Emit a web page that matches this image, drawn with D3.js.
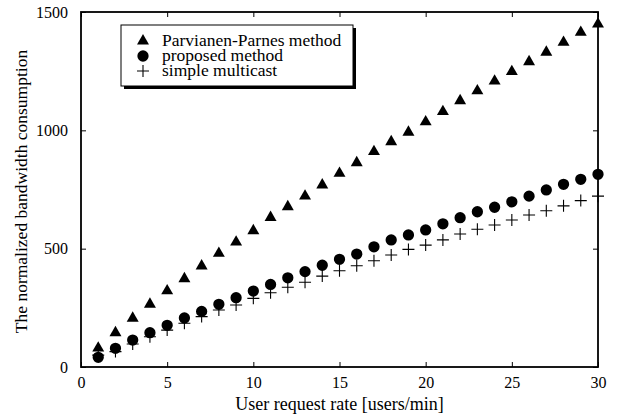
<!DOCTYPE html>
<html>
<head>
<meta charset="utf-8">
<script src="https://cdn.jsdelivr.net/npm/d3@7"></script>
<style>
  body { margin: 0; background: #fff; }
  text { font-family: "Liberation Serif", "Times New Roman", serif; fill: #000; }
</style>
</head>
<body>
<svg id="chart" width="617" height="419"></svg>
<script>
// user request rate [users/min]
var rates = d3.range(1, 31);
var parvianen = [80, 145, 206, 265, 322, 373, 427, 480, 528, 576,
                 632, 677, 722, 769, 818, 863, 910, 952, 992, 1036,
                 1079, 1125, 1167, 1208, 1248, 1290, 1330, 1372, 1414, 1449];
var proposed = [41, 79, 114, 145, 176, 207, 235, 265, 293, 321,
                349, 377, 403, 430, 455, 477, 508, 537, 558, 579,
                605, 631, 656, 675, 698, 722, 748, 772, 793, 814];
var simple = [50, 65, 97, 128, 156, 185, 213, 241, 262, 290,
              314, 337, 358, 384, 407, 428, 449, 473, 497, 515,
              537, 562, 582, 600, 621, 642, 660, 681, 703, 722];
var xTicks = [0, 5, 10, 15, 20, 25, 30];
var yTicks = [0, 500, 1000, 1500];
var legendNames = ["Parvianen-Parnes method", "proposed method", "simple multicast"];

var margin = { top: 12, right: 19, bottom: 52, left: 81 };
var width = 617 - margin.left - margin.right;
var height = 419 - margin.top - margin.bottom;

var svg = d3.select("#chart");
var g = svg.append("g").attr("transform", "translate(" + margin.left + "," + margin.top + ")");

var x = d3.scaleLinear().domain([0, 30]).range([0, width]);
var y = d3.scaleLinear().domain([0, 1500]).range([height, 0]);
var fmt = d3.format("d");

// axes, ticks inward on all four sides
g.append("g").attr("transform", "translate(0," + height + ")")
    .call(d3.axisBottom(x).tickValues(xTicks).tickFormat(fmt).tickSizeInner(-5).tickSizeOuter(0).tickPadding(10));
g.append("g")
    .call(d3.axisTop(x).tickValues(xTicks).tickSizeInner(-5).tickSizeOuter(0).tickFormat(""));
g.append("g")
    .call(d3.axisLeft(y).tickValues(yTicks).tickFormat(fmt).tickSizeInner(-5).tickSizeOuter(0).tickPadding(13));
g.append("g").attr("transform", "translate(" + width + ",0)")
    .call(d3.axisRight(y).tickValues(yTicks).tickSizeInner(-5).tickSizeOuter(0).tickFormat(""));

g.selectAll(".domain").remove();
g.selectAll("g").attr("font-family", "Liberation Serif, serif").attr("font-size", 16);
g.selectAll(".tick line").attr("stroke", "#000").attr("stroke-width", 1);

g.append("rect")
    .attr("x", 0).attr("y", 0)
    .attr("width", width).attr("height", height)
    .attr("fill", "none").attr("stroke", "#000").attr("stroke-width", 1.8);

// series markers
var tri = d3.symbol().type(d3.symbolTriangle).size(62);
var circ = d3.symbol().type(d3.symbolCircle).size(100);
var plusPath = "M-6,0H6M0,-6V6";

g.selectAll(".simple").data(simple).enter().append("path")
    .attr("class", "simple")
    .attr("transform", function (d, i) { return "translate(" + x(rates[i]) + "," + y(d) + ")"; })
    .attr("d", plusPath)
    .attr("stroke", "#000").attr("stroke-width", 1.1).attr("fill", "none");

g.selectAll(".proposed").data(proposed).enter().append("path")
    .attr("class", "proposed")
    .attr("transform", function (d, i) { return "translate(" + x(rates[i]) + "," + y(d) + ")"; })
    .attr("d", circ)
    .attr("fill", "#000");

g.selectAll(".parv").data(parvianen).enter().append("path")
    .attr("class", "parv")
    .attr("transform", function (d, i) { return "translate(" + x(rates[i]) + "," + y(d) + ")"; })
    .attr("d", tri)
    .attr("fill", "#000");

// axis titles
svg.append("text")
    .attr("x", margin.left + width / 2)
    .attr("y", 410)
    .attr("text-anchor", "middle")
    .style("font-size", "18px")
    .text("User request rate [users/min]");

svg.append("text")
    .attr("transform", "translate(27," + (margin.top + height / 2 + 2) + ") rotate(-90)")
    .attr("text-anchor", "middle")
    .style("font-size", "17.5px")
    .text("The normalized bandwidth consumption");

// legend with drop shadow
var lg = svg.append("g").attr("transform", "translate(121,25)");
lg.append("rect").attr("x", 3).attr("y", 3).attr("width", 232).attr("height", 61).attr("fill", "#000");
lg.append("rect").attr("x", 0).attr("y", 0).attr("width", 232).attr("height", 61)
    .attr("fill", "#fff").attr("stroke", "#000").attr("stroke-width", 1);

var legendMarks = [tri, circ, null];
legendNames.forEach(function (name, i) {
    var ly = 16 + i * 15;
    if (legendMarks[i]) {
        lg.append("path").attr("transform", "translate(22," + ly + ")")
            .attr("d", legendMarks[i]).attr("fill", "#000");
    } else {
        lg.append("path").attr("transform", "translate(22," + ly + ")")
            .attr("d", plusPath).attr("stroke", "#000").attr("stroke-width", 1.1);
    }
    lg.append("text").attr("x", 41).attr("y", ly + 5)
        .style("font-size", "17.5px").text(name);
});
</script>
</body>
</html>
